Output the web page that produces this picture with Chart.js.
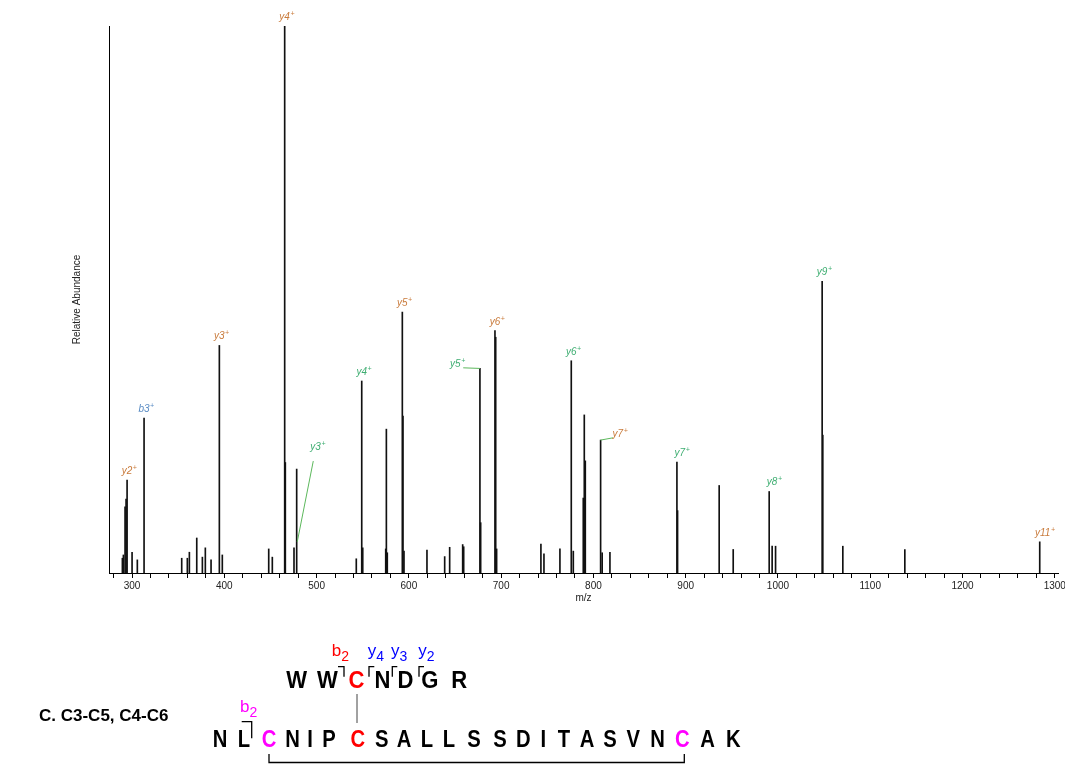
<!DOCTYPE html>
<html>
<head>
<meta charset="utf-8">
<script src="https://cdn.jsdelivr.net/npm/chart.js@4.4.0/dist/chart.umd.min.js"></script>
<style>
  html, body { margin: 0; padding: 0; background: #fff; overflow: hidden; }
  #wrap { position: relative; width: 1065px; height: 764px; }
  #spectrum { position: absolute; left: 0; top: 0; }
  #seq { position: absolute; left: 0; top: 0; pointer-events: none; }
  #seq text { font-family: "Liberation Sans", Arial, sans-serif; }
</style>
</head>
<body>
<div id="wrap">
  <canvas id="spectrum" width="1065" height="620"></canvas>
  <svg id="seq" width="1065" height="764"></svg>
</div>
<script>
// peak list (m/z, relative abundance %)
var mz = [289.5, 290.6, 292.4, 293.5, 294.6, 300.0, 305.7, 313.0, 353.8, 359.9,
    362.1, 370.1, 376.2, 379.4, 385.6, 394.6, 397.8, 448.1, 452.0, 465.4,
    466.1, 475.5, 478.4, 543.0, 548.9, 550.0, 574.9, 575.6, 576.6, 592.9,
    593.6, 594.7, 619.6, 638.8, 644.2, 658.3, 659.4, 677.0, 677.8, 693.3,
    694.1, 695.1, 743.1, 746.4, 763.7, 776.0, 778.2, 789.0, 790.1, 791.2,
    807.8, 809.5, 817.9, 890.5, 891.2, 936.3, 951.5, 990.5, 993.7, 997.4,
    1047.9, 1048.6, 1070.3, 1137.5, 1283.7];
var abundance = [2.7, 3.3, 12.1, 13.5, 17.0, 3.8, 2.4, 28.3, 2.7, 2.7,
    3.8, 6.4, 2.9, 4.6, 2.4, 41.6, 3.3, 4.4, 2.9, 100,
    20.2, 4.6, 19.0, 2.6, 35.1, 4.6, 4.4, 26.3, 3.7, 47.7,
    28.7, 4.0, 4.2, 3.0, 4.7, 5.2, 4.8, 37.4, 9.2, 44.3,
    43.1, 4.4, 5.3, 3.5, 4.4, 38.8, 4.0, 13.7, 28.9, 20.5,
    24.3, 3.7, 3.8, 20.3, 11.4, 16.0, 4.3, 14.9, 4.9, 4.9,
    53.3, 25.2, 4.9, 4.3, 5.7];

// assigned fragment ions
var ionMz = [294.6, 313.0, 394.6, 465.4, 478.4, 548.9, 592.9, 677.0, 693.3, 776.0, 807.8, 890.5, 990.5, 1047.9, 1283.7];
var ionName = ['y2', 'b3', 'y3', 'y4', 'y3', 'y4', 'y5', 'y5', 'y6', 'y6', 'y7', 'y7', 'y8', 'y9', 'y11'];
var ionGroup = ['alpha', 'bion', 'alpha', 'alpha', 'beta', 'beta', 'alpha', 'beta', 'alpha', 'beta', 'alpha', 'beta', 'beta', 'beta', 'alpha'];

var xTickStep = 20;
var xLabelStep = 100;

// peptide map
var shortPeptide = 'WWCNDGR';
var longPeptide = 'NLCNIPCSALLSSDITASVNCAK';

var groupColor = { alpha: '#c97b3c', beta: '#3fae72', bion: '#5a8cc4' };
var font = '"Liberation Sans", Arial, sans-serif';

// label placement (px from peak top); line = leader [x1, y1, x2, y2]
var labelLayout = {
    4: { dx: 21, dy: -19, line: [0.6, 72.7, 16.6, -8] },
    7: { dx: -22.5, dy: -1, line: [-16.7, -0.6, 0, 0] },
    10: { dx: 19.3, dy: -3, line: [0, 0, 12.6, -2.3] },
    11: { dx: 5 },
    12: { dx: 5 },
    14: { dx: 5 }
};

var ionLabels = {
    id: 'ionLabels',
    afterDatasetsDraw: function (chart) {
        var ctx = chart.ctx;
        var xs = chart.scales.x, ys = chart.scales.y;
        ionMz.forEach(function (m, i) {
            var k = mz.indexOf(m);
            var px = xs.getPixelForValue(m);
            var py = ys.getPixelForValue(abundance[k]);
            var lay = labelLayout[i] || {};
            var cx = px + (lay.dx !== undefined ? lay.dx : 2);
            var by = py + (lay.dy !== undefined ? lay.dy : -6);
            ctx.save();
            if (lay.line) {
                ctx.strokeStyle = '#5cb85c';
                ctx.lineWidth = 1;
                ctx.beginPath();
                ctx.moveTo(px + lay.line[0], py + lay.line[1]);
                ctx.lineTo(px + lay.line[2], py + lay.line[3]);
                ctx.stroke();
            }
            ctx.fillStyle = groupColor[ionGroup[i]];
            ctx.textBaseline = 'alphabetic';
            ctx.font = 'italic 10px ' + font;
            var w1 = ctx.measureText(ionName[i]).width;
            ctx.font = 'italic 7px ' + font;
            var w2 = ctx.measureText('+').width;
            var x0 = cx - (w1 + w2) / 2;
            ctx.font = 'italic 10px ' + font;
            ctx.fillText(ionName[i], x0, by);
            ctx.font = 'italic 7px ' + font;
            ctx.fillText('+', x0 + w1 + 0.5, by - 4);
            ctx.restore();
        });
    }
};

new Chart(document.getElementById('spectrum'), {
    type: 'bar',
    data: {
        datasets: [{
            data: mz.map(function (m, i) { return { x: m, y: abundance[i] }; }),
            backgroundColor: '#111',
            borderWidth: 0,
            barThickness: 1
        }]
    },
    options: {
        responsive: false,
        animation: false,
        layout: { padding: { left: 67, right: 7, top: 26, bottom: 16 } },
        plugins: { legend: { display: false }, tooltip: { enabled: false } },
        scales: {
            x: {
                type: 'linear',
                min: 275,
                max: 1303.5,
                offset: false,
                grid: { drawOnChartArea: false, drawTicks: true, tickLength: 5, color: '#000', offset: false },
                border: { color: '#000', width: 1 },
                ticks: {
                    stepSize: xTickStep,
                    includeBounds: false,
                    autoSkip: false,
                    maxRotation: 0,
                    padding: 2,
                    color: '#222',
                    font: { size: 10, family: font },
                    callback: function (v) { return v % xLabelStep === 0 ? v : ''; }
                },
                afterBuildTicks: function (s) {
                    s.ticks = s.ticks.filter(function (t) { return t.value % xTickStep === 0; });
                },
                afterFit: function (s) {
                    s.height = 31;
                    // let the last tick label run past the edge
                    s.paddingLeft = 0;
                    s.paddingRight = 0;
                },
                title: { display: true, text: 'm/z', color: '#222', font: { size: 10, family: font }, padding: { top: 0, bottom: 0 } }
            },
            y: {
                min: 0,
                max: 100,
                grid: { display: false },
                border: { color: '#000', width: 1 },
                ticks: { display: false },
                afterFit: function (s) { s.width = 42; },
                title: { display: true, text: 'Relative Abundance', color: '#222', font: { size: 10, family: font } }
            }
        }
    },
    plugins: [ionLabels]
});

// sequence diagram below the spectrum
var svg = document.getElementById('seq');
var NS = 'http://www.w3.org/2000/svg';

function el(tag, attrs, text) {
    var e = document.createElementNS(NS, tag);
    for (var k in attrs) e.setAttribute(k, attrs[k]);
    if (text) e.textContent = text;
    svg.appendChild(e);
    return e;
}

function fragLabel(x, y, letter, num, color) {
    var t = el('text', { x: x, y: y, fill: color, 'font-size': 17 });
    var a = document.createElementNS(NS, 'tspan');
    a.textContent = letter;
    var b = document.createElementNS(NS, 'tspan');
    b.setAttribute('font-size', 14);
    b.setAttribute('dy', 5);
    b.textContent = num;
    t.appendChild(a);
    t.appendChild(b);
}

// residue letters, slightly condensed
function residue(c, x, y, size, sx, color) {
    el('text', {
        x: 0, y: 0, transform: 'translate(' + x + ',' + y + ') scale(' + sx + ',1)',
        'text-anchor': 'middle', 'font-size': size, 'font-weight': 'bold', fill: color
    }, c);
}

var shortX = [296.7, 327.3, 356.5, 382.5, 405.5, 429.8, 459.2];
var longX = [220, 244, 269, 292.5, 310, 329, 357.7, 381.7, 404, 427, 449, 474, 500,
    523.3, 543.3, 564, 587, 610, 633.3, 657.5, 682.3, 707.5, 733.3];
var shortColor = { 2: '#ff0000' };
var longColor = { 2: '#ff00ff', 6: '#ff0000', 20: '#ff00ff' };

shortPeptide.split('').forEach(function (c, i) {
    residue(c, shortX[i], 688, 24, 0.92, shortColor[i] || '#000');
});
longPeptide.split('').forEach(function (c, i) {
    residue(c, longX[i], 747, 23, 0.88, longColor[i] || '#000');
});

el('text', { x: 39, y: 721, 'font-size': 17, 'font-weight': 'bold', fill: '#000' }, 'C. C3-C5, C4-C6');

var line = { fill: 'none', stroke: '#000', 'stroke-width': 1.3 };
function path(d) { var a = Object.assign({ d: d }, line); el('path', a); }

// fragment brackets
path('M338,666.7 H344 V676.7');
path('M374.3,666.7 H369 V676.7');
path('M397.3,666.7 H392.3 V676.7');
path('M424,666.7 H419 V676.7');
path('M241.7,721.7 H251.7 V738.3');

fragLabel(331.7, 656, 'b', '2', '#ff0000');
fragLabel(367.7, 656, 'y', '4', '#0000ff');
fragLabel(391, 656, 'y', '3', '#0000ff');
fragLabel(418.3, 656, 'y', '2', '#0000ff');
fragLabel(240, 712, 'b', '2', '#ff00ff');

// disulfide links
el('path', Object.assign({ d: 'M357,694 V723' }, line, { stroke: '#444', 'stroke-width': 1 }));
path('M269,754 V762.5 H684.3 V754');
</script>
</body>
</html>
